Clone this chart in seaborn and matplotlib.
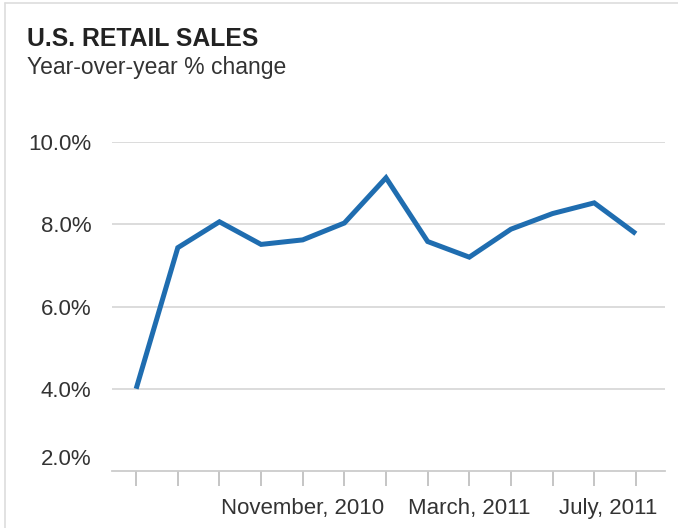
import matplotlib
matplotlib.use("Agg")
import matplotlib.pyplot as plt
import matplotlib.transforms as mtransforms
import seaborn as sns
import pandas as pd

months = ["Jul 2010", "Aug 2010", "Sep 2010", "Oct 2010", "Nov 2010", "Dec 2010",
          "Jan 2011", "Feb 2011", "Mar 2011", "Apr 2011", "May 2011", "Jun 2011", "Jul 2011"]
values = [4.0, 7.43, 8.06, 7.51, 7.62, 8.03, 9.13, 7.58, 7.2, 7.88, 8.26, 8.52, 7.77]
tick_labels = ["", "", "", "", "November, 2010", "", "", "", "March, 2011", "", "", "", "July, 2011"]
y_ticks = [2, 4, 6, 8, 10]
y_tick_labels = ["2.0%", "4.0%", "6.0%", "8.0%", "10.0%"]

df = pd.DataFrame({"idx": range(len(months)), "month": months, "value": values})

sns.set_theme(style="white")
plt.rcParams["font.family"] = ["Liberation Sans", "DejaVu Sans"]

fig = plt.figure(figsize=(6.78, 5.28), dpi=100)
ax = fig.add_axes([112 / 678, 1 - 471 / 528, (665 - 112) / 678, (471 - 142) / 528])

sns.lineplot(data=df, x="idx", y="value", ax=ax, color="#1f6db0", linewidth=3.6,
             solid_joinstyle="miter", solid_capstyle="butt")

ax.set_xlim(-0.58, 12.7)
ax.set_ylim(2, 10)
ax.set_yticks(y_ticks)
ax.set_yticklabels(y_tick_labels)
ax.set_xticks(range(len(months)))
ax.set_xticklabels(tick_labels)
ax.set_xlabel("")
ax.set_ylabel("")

for y in y_ticks[1:]:
    ax.axhline(y, color="#d9d9d9", linewidth=1.3, zorder=0)

for s in ["top", "right", "left"]:
    ax.spines[s].set_visible(False)
ax.spines["bottom"].set_color("#cccccc")
ax.spines["bottom"].set_linewidth(1.3)

ax.tick_params(axis="x", which="major", bottom=True, length=11, width=1.2,
               color="#bbbbbb", direction="out", pad=8.5, labelsize=16, labelcolor="#333333")
ax.tick_params(axis="y", which="major", left=False, pad=9, labelsize=16, labelcolor="#333333")

# offsets for some labels
lbls = ax.get_yticklabels()
lbls[0].set_transform(lbls[0].get_transform() + mtransforms.ScaledTranslation(0, 14 / 100, fig.dpi_scale_trans))
xl = ax.get_xticklabels()
xl[12].set_transform(xl[12].get_transform() + mtransforms.ScaledTranslation(-28 / 100, 0, fig.dpi_scale_trans))

fig.text(27 / 678, 1 - 46 / 528, "U.S. RETAIL SALES", fontsize=17.8, fontweight="bold",
         color="#222222", ha="left", va="baseline")
fig.text(27 / 678, 1 - 74 / 528, "Year-over-year % change", fontsize=16.5,
         color="#333333", ha="left", va="baseline")

# light border
fig.add_artist(plt.Line2D([5 / 678, 5 / 678], [0, 1 - 3 / 528], color="#dddddd", linewidth=1.2))
fig.add_artist(plt.Line2D([5 / 678, 1], [1 - 3 / 528, 1 - 3 / 528], color="#dddddd", linewidth=1.2))

fig.savefig("out.png", dpi=100)
